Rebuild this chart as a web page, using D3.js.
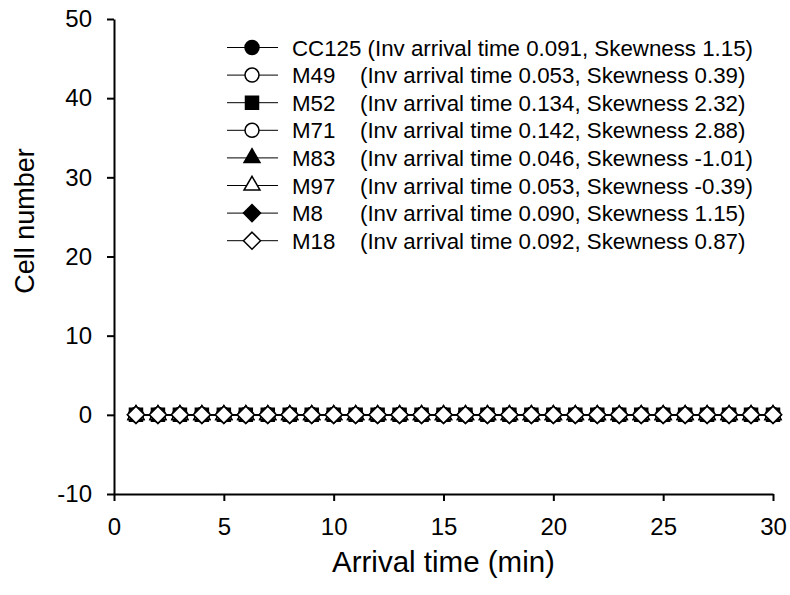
<!DOCTYPE html>
<html lang="en">
<head>
  <meta charset="UTF-8">
  <title>Arrival time</title>
  <script src="https://d3js.org/d3.v7.min.js"></script>
  <style>
    body { margin: 0; background: #fff; }
    svg { display: block; font-family: "Liberation Sans", Arial, sans-serif; }
    .axis path, .axis line { stroke: #000; stroke-width: 2px; }
    .axis text { font-size: 24px; fill: #000; }
    .title { font-size: 27px; fill: #000; }
    .legend text { font-size: 22.3px; fill: #000; }
  </style>
</head>
<body>
<svg width="790" height="595"></svg>
<script>
// arrival times (min) and cell counts
const arrivalTimes = [1, 2, 3, 4, 5, 6, 7, 8, 9, 10, 11, 12, 13, 14, 15,
                      16, 17, 18, 19, 20, 21, 22, 23, 24, 25, 26, 27, 28, 29, 30];
const cellCounts   = [0, 0, 0, 0, 0, 0, 0, 0, 0, 0, 0, 0, 0, 0, 0,
                      0, 0, 0, 0, 0, 0, 0, 0, 0, 0, 0, 0, 0, 0, 0];

const seriesNames = ["CC125", "M49", "M52", "M71", "M83", "M97", "M8", "M18"];
const invArrival  = ["0.091", "0.053", "0.134", "0.142", "0.046", "0.053", "0.090", "0.092"];
const skewness    = ["1.15", "0.39", "2.32", "2.88", "-1.01", "-0.39", "1.15", "0.87"];
const seriesShape = ["circle", "circle", "square", "circle", "triangle", "triangle", "diamond", "diamond"];
const seriesFill  = ["#000", "#fff", "#000", "#fff", "#000", "#fff", "#000", "#fff"];
// every series is zero at every arrival time
const seriesValues = seriesNames.map(() => cellCounts);

const xTicks = [0, 5, 10, 15, 20, 25, 30];
const yTicks = [-10, 0, 10, 20, 30, 40, 50];

const svg = d3.select("svg");

const x = d3.scaleLinear().domain([0, 30]).range([114, 773]);
const y = d3.scaleLinear().domain([-10, 50]).range([494, 19]);

// square rotated 45 degrees
const diamondSquare = {
  draw(context, size) {
    const r = Math.sqrt(size / 2);
    context.moveTo(0, -r);
    context.lineTo(r, 0);
    context.lineTo(0, r);
    context.lineTo(-r, 0);
    context.closePath();
  }
};

const symbolTypes = {
  circle: [d3.symbolCircle, 154],
  square: [d3.symbolSquare, 169],
  triangle: [d3.symbolTriangle, 110],
  diamond: [diamondSquare, 145]
};

function markerPath(shape) {
  const [type, size] = symbolTypes[shape];
  return d3.symbol().type(type).size(size)();
}

// axes (plain hyphen for negatives)
svg.append("g")
  .attr("class", "axis")
  .attr("transform", `translate(0,${y(-10)})`)
  .call(d3.axisBottom(x).tickValues(xTicks).tickFormat(d => String(d))
    .tickSize(7).tickPadding(17).tickSizeOuter(0));

svg.append("g")
  .attr("class", "axis")
  .attr("transform", `translate(${x(0)},0)`)
  .call(d3.axisLeft(y).tickValues(yTicks).tickFormat(d => String(d))
    .tickSize(7).tickPadding(15).tickSizeOuter(0));

svg.selectAll(".axis").attr("font-size", null).attr("font-family", null);

// axis titles
svg.append("text")
  .attr("class", "title")
  .attr("x", (x(0) + x(30)) / 2)
  .attr("y", 572)
  .attr("text-anchor", "middle")
  .style("font-size", "29.5px")
  .text("Arrival time (min)");

svg.append("text")
  .attr("class", "title")
  .attr("transform", "translate(34,221) rotate(-90)")
  .attr("text-anchor", "middle")
  .text("Cell number");

// series: line then markers, in legend order
const line = d3.line().x(d => x(d.t)).y(d => y(d.v));

seriesNames.forEach((name, i) => {
  const pts = arrivalTimes.map((t, k) => ({ t, v: seriesValues[i][k] }));
  const g = svg.append("g");
  g.append("path")
    .datum(pts)
    .attr("d", line)
    .attr("fill", "none")
    .attr("stroke", "#000")
    .attr("stroke-width", 1);
  g.selectAll("path.pt")
    .data(pts)
    .join("path")
    .attr("class", "pt")
    .attr("transform", d => `translate(${x(d.t)},${y(d.v)})`)
    .attr("d", markerPath(seriesShape[i]))
    .attr("fill", seriesFill[i])
    .attr("stroke", "#000")
    .attr("stroke-width", 1.5);
});

// legend
const legend = svg.append("g").attr("class", "legend");
const rowY = i => 47.5 + i * 27.6;

seriesNames.forEach((name, i) => {
  const row = legend.append("g").attr("transform", `translate(0,${rowY(i)})`);
  row.append("line")
    .attr("x1", 227).attr("x2", 278)
    .attr("stroke", "#000").attr("stroke-width", 1);
  row.append("path")
    .attr("transform", "translate(252,0)")
    .attr("d", markerPath(seriesShape[i]))
    .attr("fill", seriesFill[i])
    .attr("stroke", "#000")
    .attr("stroke-width", 1.5);
  const detail = `(Inv arrival time ${invArrival[i]}, Skewness ${skewness[i]})`;
  if (i === 0) {
    row.append("text").attr("x", 292).attr("y", 8).text(`${name} ${detail}`);
  } else {
    row.append("text").attr("x", 292).attr("y", 8).text(name);
    row.append("text").attr("x", 360).attr("y", 8).text(detail);
  }
});
</script>
</body>
</html>
